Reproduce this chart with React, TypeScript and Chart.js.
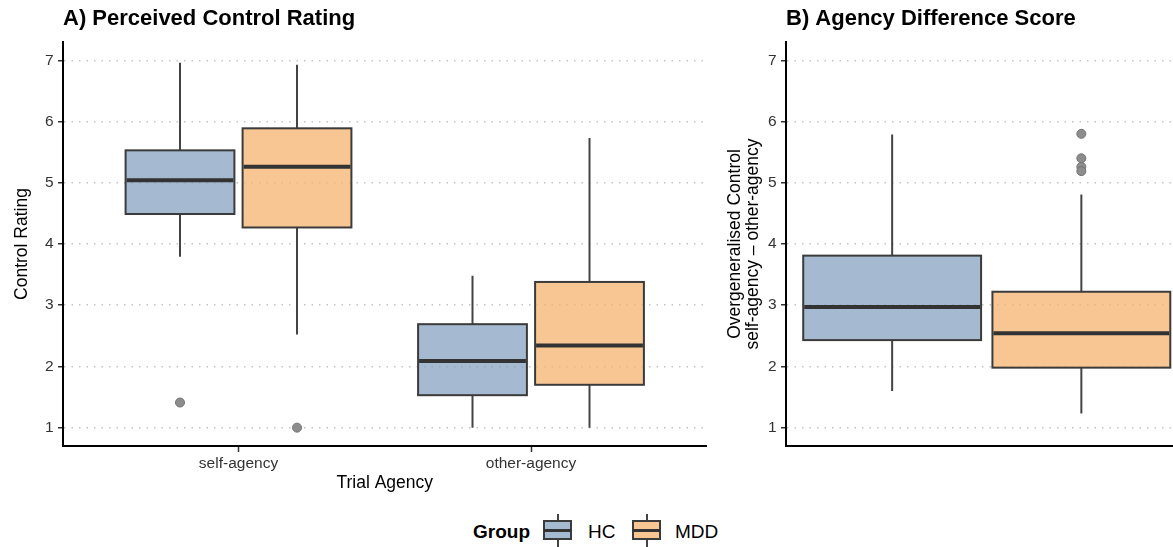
import React, { useEffect, useRef } from 'react';
import { Chart, registerables } from 'chart.js';

Chart.register(...registerables);

// ---------- data ----------
const agencyCategories = ['self-agency', 'other-agency'];
const groupNames = ['HC', 'MDD'];
const yTickValues = [1, 2, 3, 4, 5, 6, 7];
// five-number summaries: [lower whisker, Q1, median, Q3, upper whisker]
const hcControl = [
  [3.79, 4.49, 5.04, 5.53, 6.96],
  [1.0, 1.53, 2.09, 2.69, 3.48],
];
const mddControl = [
  [2.52, 4.27, 5.26, 5.89, 6.93],
  [1.0, 1.7, 2.34, 3.38, 5.73],
];
const hcControlOutliers = [[1.41], []];
const mddControlOutliers = [[1.0], []];
const hcDifference = [1.6, 2.43, 2.97, 3.81, 5.79];
const mddDifference = [1.23, 1.98, 2.54, 3.22, 4.81];
const hcDifferenceOutliers: number[] = [];
const mddDifferenceOutliers = [5.8, 5.4, 5.26, 5.19];

// ---------- style ----------
const FONT = "'Liberation Sans', Arial, Helvetica, sans-serif";
const groupFills = ['rgba(135,163,194,0.75)', 'rgba(244,179,111,0.75)'];
const groupLegendFills = ['rgb(165,186,209)', 'rgb(247,198,147)'];
const dodge = [-0.2, 0.2];

type Box = { x: number; half: number; stats: number[]; fill: string };

function makeBoxPlugin(boxes: Box[]) {
  return {
    id: 'boxes',
    beforeDatasetsDraw(chart: any) {
      const { ctx, chartArea, scales } = chart;
      const xs = scales.x;
      const ys = scales.y;
      ctx.save();
      ctx.beginPath();
      ctx.rect(chartArea.left, chartArea.top, chartArea.right - chartArea.left, chartArea.bottom - chartArea.top);
      ctx.clip();
      for (const b of boxes) {
        const xc = xs.getPixelForValue(b.x);
        const xl = xs.getPixelForValue(b.x - b.half);
        const xr = xs.getPixelForValue(b.x + b.half);
        const [lo, q1, md, q3, hi] = b.stats.map((v) => ys.getPixelForValue(v));
        ctx.strokeStyle = '#444444';
        ctx.lineWidth = 2;
        ctx.beginPath();
        ctx.moveTo(xc, hi);
        ctx.lineTo(xc, q3);
        ctx.moveTo(xc, q1);
        ctx.lineTo(xc, lo);
        ctx.stroke();
        ctx.fillStyle = b.fill;
        ctx.fillRect(xl, q3, xr - xl, q1 - q3);
        ctx.strokeStyle = '#3b3b3b';
        ctx.lineWidth = 2;
        ctx.strokeRect(xl, q3, xr - xl, q1 - q3);
        ctx.strokeStyle = '#333333';
        ctx.lineWidth = 4;
        ctx.beginPath();
        ctx.moveTo(xl + 1, md);
        ctx.lineTo(xr - 1, md);
        ctx.stroke();
      }
      ctx.restore();
    },
  };
}

function outlierDataset(points: { x: number; y: number }[]) {
  return {
    type: 'scatter' as const,
    data: points,
    pointRadius: 4.5,
    pointHoverRadius: 4.5,
    backgroundColor: '#8d8d8d',
    borderColor: '#727272',
    borderWidth: 1,
  };
}

function yScale(title: string | string[], width: number, titlePad: number) {
  return {
    type: 'linear',
    min: 0.7,
    max: 7.3,
    afterBuildTicks: (s: any) => {
      s.ticks = yTickValues.map((v) => ({ value: v }));
    },
    afterFit: (s: any) => {
      s.width = width;
    },
    ticks: {
      color: '#333333',
      font: { size: 15.5, family: FONT },
      padding: 4.5,
      callback: (v: any) => String(v),
    },
    grid: {
      color: '#c4c4c4',
      lineWidth: 1.5,
      drawTicks: true,
      tickLength: 5,
      tickColor: '#333333',
      tickWidth: 1.5,
    },
    border: { display: true, color: '#000000', width: 2, dash: [1.5, 6] },
    title: {
      display: true,
      text: title,
      color: '#000000',
      font: { size: 17.5, family: FONT, lineHeight: 1.05 },
      padding: { top: titlePad, bottom: 0 },
    },
  };
}

function titleOpts(text: string) {
  return {
    display: true,
    text,
    align: 'start',
    fullSize: false,
    color: '#000000',
    font: { size: 22, weight: 'bold', family: FONT, lineHeight: 1.2 },
    padding: { top: 5.5, bottom: 10.1 },
  };
}

function buildPanelA(canvas: HTMLCanvasElement) {
  const boxes: Box[] = [];
  agencyCategories.forEach((_, i) => {
    boxes.push({ x: i + 1 + dodge[0], half: 0.186, stats: hcControl[i], fill: groupFills[0] });
    boxes.push({ x: i + 1 + dodge[1], half: 0.186, stats: mddControl[i], fill: groupFills[1] });
  });
  const hcPts = hcControlOutliers.flatMap((vals, i) => vals.map((v) => ({ x: i + 1 + dodge[0], y: v })));
  const mddPts = mddControlOutliers.flatMap((vals, i) => vals.map((v) => ({ x: i + 1 + dodge[1], y: v })));
  return new Chart(canvas, {
    type: 'scatter',
    data: { datasets: [outlierDataset(hcPts), outlierDataset(mddPts)] as any },
    plugins: [makeBoxPlugin(boxes)],
    options: {
      animation: false,
      responsive: false,
      devicePixelRatio: 1,
      layout: { padding: { left: 0, right: 5, top: 0, bottom: 0 } },
      plugins: {
        legend: { display: false },
        tooltip: { enabled: false },
        title: titleOpts('A) Perceived Control Rating') as any,
      },
      scales: {
        x: {
          type: 'linear',
          min: 0.4,
          max: 2.6,
          afterBuildTicks: (s: any) => {
            s.ticks = agencyCategories.map((_, i) => ({ value: i + 1 }));
          },
          afterFit: (s: any) => {
            s.height = 54;
          },
          ticks: {
            color: '#333333',
            font: { size: 15.5, family: FONT },
            padding: 2,
            autoSkip: false,
            maxRotation: 0,
            callback: (v: any) => agencyCategories[Math.round(v) - 1],
          },
          grid: {
            drawOnChartArea: false,
            drawTicks: true,
            tickLength: 6,
            tickColor: '#333333',
            tickWidth: 1.5,
            color: '#333333',
          },
          border: { display: true, color: '#000000', width: 2 },
          title: {
            display: true,
            text: 'Trial Agency',
            color: '#000000',
            font: { size: 17.5, family: FONT },
            padding: { top: 0, bottom: 6.5 },
          },
        } as any,
        y: yScale('Control Rating', 63, 12.5) as any,
      },
    },
  });
}

function buildPanelB(canvas: HTMLCanvasElement) {
  const boxes: Box[] = [
    { x: 1, half: 0.47, stats: hcDifference, fill: groupFills[0] },
    { x: 2, half: 0.47, stats: mddDifference, fill: groupFills[1] },
  ];
  const hcPts = hcDifferenceOutliers.map((v) => ({ x: 1, y: v }));
  const mddPts = mddDifferenceOutliers.map((v) => ({ x: 2, y: v }));
  return new Chart(canvas, {
    type: 'scatter',
    data: { datasets: [outlierDataset(hcPts), outlierDataset(mddPts)] as any },
    plugins: [makeBoxPlugin(boxes)],
    options: {
      animation: false,
      responsive: false,
      devicePixelRatio: 1,
      layout: { padding: { left: 0, right: 0, top: 0, bottom: 0 } },
      plugins: {
        legend: { display: false },
        tooltip: { enabled: false },
        title: titleOpts('B) Agency Difference Score') as any,
      },
      scales: {
        x: {
          type: 'linear',
          min: 0.439,
          max: 2.487,
          afterFit: (s: any) => {
            s.height = 54;
          },
          ticks: { display: false },
          grid: { drawOnChartArea: false, drawTicks: false },
          border: { display: true, color: '#000000', width: 2 },
        } as any,
        y: yScale(['Overgeneralised Control', 'self-agency \u2013 other-agency'], 74, 14) as any,
      },
    },
  });
}

function LegendGlyph({ left, fill }: { left: number; fill: string }) {
  return (
    <div style={{ position: 'absolute', left, top: 514, width: 29, height: 33 }}>
      <div style={{ position: 'absolute', left: 13.5, top: 0, width: 2, height: 33, background: '#444' }} />
      <div
        style={{
          position: 'absolute',
          left: 0,
          top: 6,
          width: 29,
          height: 20,
          boxSizing: 'border-box',
          border: '2px solid #3b3b3b',
          background: fill,
        }}
      />
      <div style={{ position: 'absolute', left: 1, top: 14.5, width: 27, height: 3, background: '#333' }} />
    </div>
  );
}

export default function App() {
  const refA = useRef<HTMLCanvasElement>(null);
  const refB = useRef<HTMLCanvasElement>(null);

  useEffect(() => {
    const a = buildPanelA(refA.current!);
    const b = buildPanelB(refB.current!);
    return () => {
      a.destroy();
      b.destroy();
    };
  }, []);

  const legendText: React.CSSProperties = {
    position: 'absolute',
    top: 522,
    fontFamily: FONT,
    fontSize: 19,
    lineHeight: '19px',
    color: '#000',
    whiteSpace: 'nowrap',
  };

  return (
    <div style={{ position: 'absolute', left: 0, top: 0, width: 1173, height: 547, background: '#fff', overflow: 'hidden' }}>
      <canvas ref={refA} width={712} height={500} style={{ position: 'absolute', left: 0, top: 0, display: 'block' }} />
      <canvas ref={refB} width={467} height={500} style={{ position: 'absolute', left: 712, top: 0, display: 'block' }} />
      <div style={{ ...legendText, left: 473, fontWeight: 'bold' }}>Group</div>
      <LegendGlyph left={543} fill={groupLegendFills[0]} />
      <div style={{ ...legendText, left: 588 }}>{groupNames[0]}</div>
      <LegendGlyph left={632} fill={groupLegendFills[1]} />
      <div style={{ ...legendText, left: 675 }}>{groupNames[1]}</div>
    </div>
  );
}
